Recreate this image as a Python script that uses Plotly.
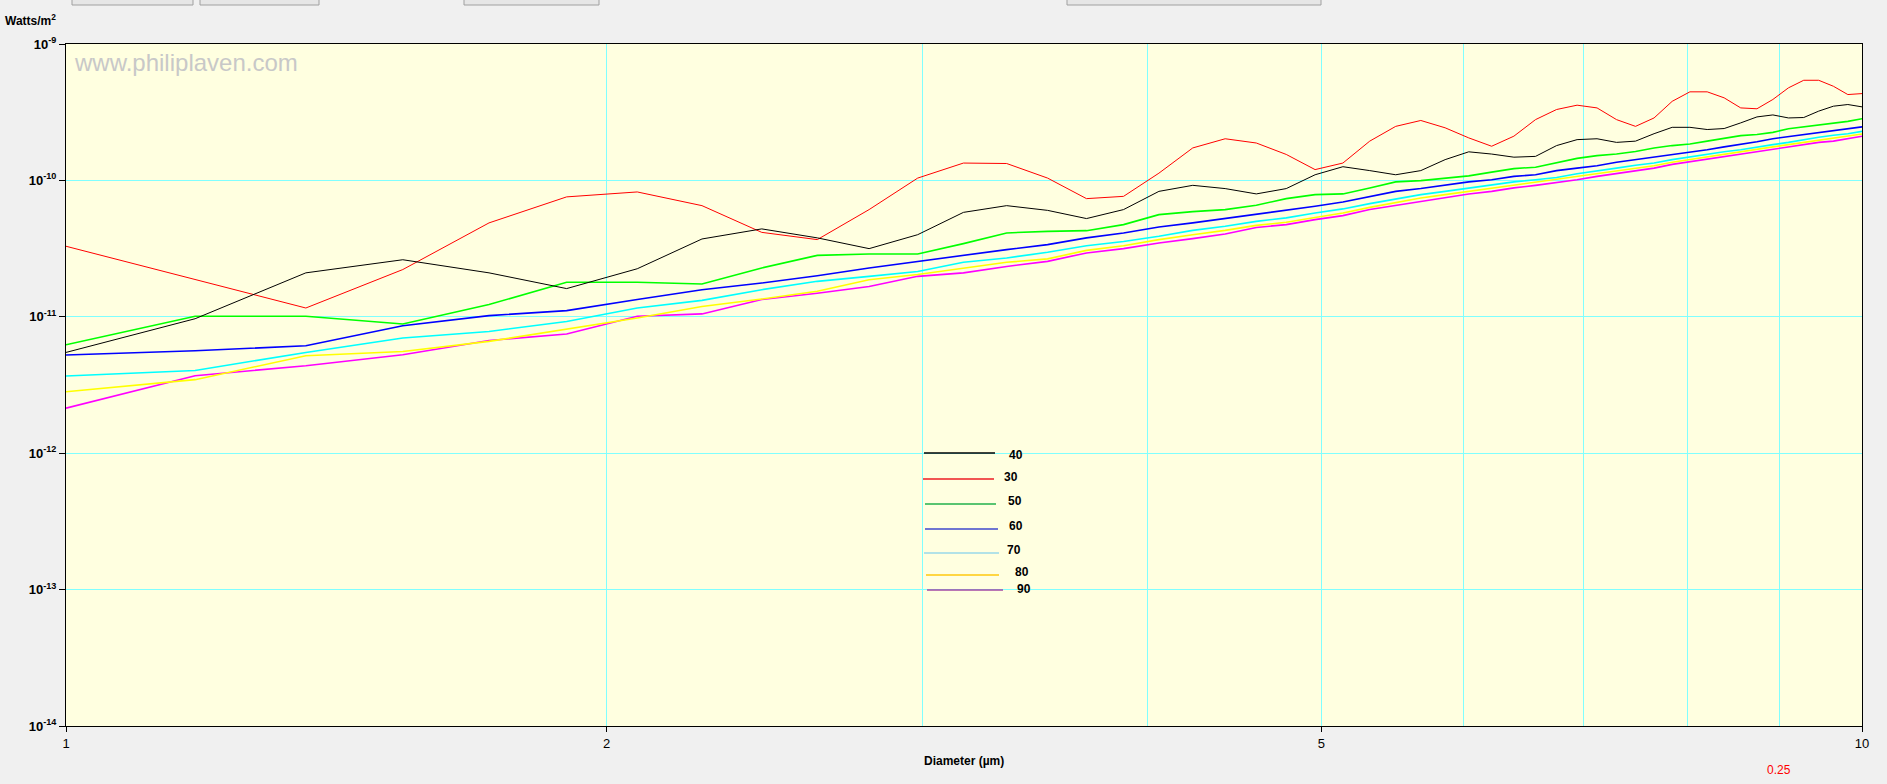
import plotly.graph_objects as go

# Diameter samples (µm)
diameter = [1.00, 1.18, 1.36, 1.54, 1.72, 1.90, 2.08, 2.26, 2.44, 2.62,
            2.80, 2.98, 3.16, 3.34, 3.52, 3.70, 3.88, 4.06, 4.24, 4.42,
            4.60, 4.78, 4.96, 5.14, 5.32, 5.50, 5.68, 5.86, 6.04, 6.22,
            6.40, 6.58, 6.76, 6.94, 7.12, 7.30, 7.48, 7.66, 7.84, 8.02,
            8.20, 8.38, 8.56, 8.74, 8.92, 9.10, 9.28, 9.46, 9.64, 9.82, 10.00]

w40 = [5.48e-12, 9.68e-12, 2.10e-11, 2.62e-11, 2.10e-11, 1.61e-11, 2.25e-11, 3.72e-11, 4.41e-11, 3.79e-11,
       3.16e-11, 4.00e-11, 5.83e-11, 6.53e-11, 6.03e-11, 5.25e-11, 6.11e-11, 8.31e-11, 9.20e-11, 8.71e-11,
       7.96e-11, 8.71e-11, 1.10e-10, 1.26e-10, 1.18e-10, 1.10e-10, 1.18e-10, 1.42e-10, 1.62e-10, 1.56e-10,
       1.48e-10, 1.50e-10, 1.80e-10, 1.99e-10, 2.02e-10, 1.90e-10, 1.94e-10, 2.20e-10, 2.45e-10, 2.45e-10,
       2.36e-10, 2.40e-10, 2.64e-10, 2.92e-10, 3.02e-10, 2.87e-10, 2.89e-10, 3.22e-10, 3.50e-10, 3.60e-10, 3.46e-10]
w30 = [3.29e-11, 1.89e-11, 1.16e-11, 2.22e-11, 4.88e-11, 7.57e-11, 8.23e-11, 6.53e-11, 4.16e-11, 3.68e-11,
       6.11e-11, 1.04e-10, 1.34e-10, 1.33e-10, 1.04e-10, 7.35e-11, 7.64e-11, 1.13e-10, 1.73e-10, 2.02e-10,
       1.88e-10, 1.55e-10, 1.20e-10, 1.34e-10, 1.94e-10, 2.49e-10, 2.75e-10, 2.43e-10, 2.05e-10, 1.78e-10,
       2.11e-10, 2.79e-10, 3.31e-10, 3.56e-10, 3.40e-10, 2.79e-10, 2.49e-10, 2.87e-10, 3.80e-10, 4.46e-10,
       4.46e-10, 4.03e-10, 3.40e-10, 3.35e-10, 3.92e-10, 4.77e-10, 5.42e-10, 5.42e-10, 4.90e-10, 4.26e-10, 4.33e-10]
w50 = [6.24e-12, 1.01e-11, 1.01e-11, 8.85e-12, 1.23e-11, 1.79e-11, 1.79e-11, 1.74e-11, 2.28e-11, 2.82e-11,
       2.89e-11, 2.89e-11, 3.44e-11, 4.12e-11, 4.23e-11, 4.28e-11, 4.74e-11, 5.61e-11, 5.90e-11, 6.11e-11,
       6.57e-11, 7.35e-11, 7.87e-11, 7.96e-11, 8.81e-11, 9.75e-11, 9.96e-11, 1.04e-10, 1.08e-10, 1.15e-10,
       1.22e-10, 1.25e-10, 1.34e-10, 1.45e-10, 1.52e-10, 1.56e-10, 1.63e-10, 1.73e-10, 1.80e-10, 1.85e-10,
       1.94e-10, 2.03e-10, 2.13e-10, 2.17e-10, 2.25e-10, 2.39e-10, 2.47e-10, 2.52e-10, 2.61e-10, 2.71e-10, 2.83e-10]
w60 = [5.25e-12, 5.64e-12, 6.13e-12, 8.60e-12, 1.02e-11, 1.11e-11, 1.34e-11, 1.58e-11, 1.77e-11, 2.00e-11,
       2.28e-11, 2.55e-11, 2.84e-11, 3.11e-11, 3.38e-11, 3.79e-11, 4.12e-11, 4.56e-11, 4.88e-11, 5.25e-11,
       5.68e-11, 6.00e-11, 6.46e-11, 6.95e-11, 7.64e-11, 8.31e-11, 8.71e-11, 9.20e-11, 9.75e-11, 1.01e-10,
       1.07e-10, 1.10e-10, 1.18e-10, 1.23e-10, 1.28e-10, 1.36e-10, 1.42e-10, 1.48e-10, 1.55e-10, 1.61e-10,
       1.68e-10, 1.76e-10, 1.83e-10, 1.92e-10, 2.02e-10, 2.09e-10, 2.17e-10, 2.25e-10, 2.32e-10, 2.40e-10, 2.47e-10]
w70 = [3.68e-12, 4.04e-12, 5.48e-12, 6.99e-12, 7.81e-12, 9.25e-12, 1.16e-11, 1.32e-11, 1.58e-11, 1.82e-11,
       1.98e-11, 2.15e-11, 2.51e-11, 2.70e-11, 2.97e-11, 3.32e-11, 3.57e-11, 3.89e-11, 4.30e-11, 4.61e-11,
       5.01e-11, 5.31e-11, 5.77e-11, 6.18e-11, 6.76e-11, 7.35e-11, 7.87e-11, 8.31e-11, 8.81e-11, 9.31e-11,
       9.75e-11, 1.01e-10, 1.05e-10, 1.12e-10, 1.17e-10, 1.23e-10, 1.29e-10, 1.34e-10, 1.42e-10, 1.49e-10,
       1.55e-10, 1.62e-10, 1.68e-10, 1.76e-10, 1.83e-10, 1.90e-10, 1.99e-10, 2.07e-10, 2.14e-10, 2.20e-10, 2.29e-10]
w80 = [2.82e-12, 3.46e-12, 5.18e-12, 5.57e-12, 6.60e-12, 8.14e-12, 9.80e-12, 1.19e-11, 1.35e-11, 1.54e-11,
       1.87e-11, 2.04e-11, 2.28e-11, 2.51e-11, 2.66e-11, 3.07e-11, 3.32e-11, 3.68e-11, 4.00e-11, 4.30e-11,
       4.68e-11, 4.93e-11, 5.35e-11, 5.77e-11, 6.34e-11, 6.90e-11, 7.44e-11, 7.87e-11, 8.31e-11, 8.81e-11,
       9.31e-11, 9.75e-11, 1.02e-10, 1.07e-10, 1.12e-10, 1.18e-10, 1.23e-10, 1.28e-10, 1.36e-10, 1.42e-10,
       1.49e-10, 1.55e-10, 1.62e-10, 1.68e-10, 1.76e-10, 1.83e-10, 1.90e-10, 1.99e-10, 2.05e-10, 2.13e-10, 2.19e-10]
w90 = [2.14e-12, 3.70e-12, 4.38e-12, 5.27e-12, 6.71e-12, 7.47e-12, 1.01e-11, 1.05e-11, 1.34e-11, 1.49e-11,
       1.67e-11, 1.98e-11, 2.10e-11, 2.34e-11, 2.55e-11, 2.94e-11, 3.16e-11, 3.48e-11, 3.74e-11, 4.05e-11,
       4.52e-11, 4.74e-11, 5.16e-11, 5.52e-11, 6.11e-11, 6.53e-11, 7.02e-11, 7.50e-11, 7.96e-11, 8.31e-11,
       8.81e-11, 9.20e-11, 9.64e-11, 1.01e-10, 1.07e-10, 1.12e-10, 1.18e-10, 1.23e-10, 1.31e-10, 1.37e-10,
       1.42e-10, 1.49e-10, 1.55e-10, 1.62e-10, 1.68e-10, 1.76e-10, 1.83e-10, 1.90e-10, 1.94e-10, 2.03e-10, 2.11e-10]

series_names = ["40", "30", "50", "60", "70", "80", "90"]
series_values = [w40, w30, w50, w60, w70, w80, w90]
line_colors = ["#000000", "#ff0000", "#00ff00", "#0000ff", "#00ffff", "#ffff00", "#ff00ff"]
line_widths = [1, 1, 1.6, 1.6, 1.6, 1.6, 1.6]
legend_colors = ["#000000", "#ed1c24", "#22b14c", "#3f48cc", "#99d9ea", "#ffc90e", "#a349a4"]

x_tickvals = [1, 2, 5, 10]
x_ticktext = ["1", "2", "5", "10"]
x_minor = [3, 4, 6, 7, 8, 9]
y_tickvals = [1e-14, 1e-13, 1e-12, 1e-11, 1e-10, 1e-9]
y_ticktext = ["10<sup>-14</sup>", "10<sup>-13</sup>", "10<sup>-12</sup>",
              "10<sup>-11</sup>", "10<sup>-10</sup>", "10<sup>-9</sup>"]

W, H = 1887, 784
L, R, T, B = 66, 25, 44, 58
PW, PH = W - L - R, H - T - B


def px(xp):
    return (xp - L) / PW


def py(yp):
    return (H - B - yp) / PH


fig = go.Figure()
# draw in reverse so black/red lie on top
for name, vals, col, lw in reversed(list(zip(series_names, series_values, line_colors, line_widths))):
    fig.add_trace(go.Scatter(x=diameter, y=vals, mode="lines", name=name,
                             line=dict(color=col, width=lw), showlegend=False, hoverinfo="skip"))

grid = "#80ffff"
fig.update_xaxes(type="log", range=[0, 1], tickmode="array", tickvals=x_tickvals, ticktext=x_ticktext,
                 showgrid=True, gridcolor=grid, gridwidth=1,
                 minor=dict(tickmode="array", tickvals=x_minor, showgrid=True, gridcolor=grid,
                            gridwidth=1, ticklen=0),
                 ticks="outside", ticklen=5, tickcolor="black",
                 showline=True, linecolor="black", linewidth=1, mirror=True,
                 tickfont=dict(family="Liberation Sans", size=13, color="black"),
                 zeroline=False)
fig.update_yaxes(type="log", range=[-14, -9], tickmode="array", tickvals=y_tickvals, ticktext=y_ticktext,
                 showgrid=True, gridcolor=grid, gridwidth=1,
                 ticks="outside", ticklen=6, tickcolor="black",
                 showline=True, linecolor="black", linewidth=1, mirror=True,
                 tickfont=dict(family="Liberation Sans", size=13, color="black", weight="bold"),
                 zeroline=False)

shapes = []
# legend lines (manual, drawn inside the plot)
leg_lines = [(924, 995, 453), (923, 994, 479), (925, 996, 504), (925, 998, 529),
             (924, 999, 553), (926, 999, 575), (927, 1003, 590)]
leg_text = [(1016, 455), (1011, 477), (1015, 501), (1016, 526), (1014, 550), (1022, 572), (1024, 589)]
for (x0, x1, yy), col in zip(leg_lines, legend_colors):
    shapes.append(dict(type="line", xref="paper", yref="paper", x0=px(x0), x1=px(x1), y0=py(yy), y1=py(yy),
                       line=dict(color=col, width=1.3)))
# partially visible toolbar buttons at the very top
for x0, x1 in [(72, 193), (200, 319), (464, 599), (1067, 1321)]:
    shapes.append(dict(type="rect", xref="paper", yref="paper", x0=px(x0), x1=px(x1), y0=py(5), y1=py(-3),
                       line=dict(color="#a0a0a0", width=1), fillcolor="#e6e6e6"))

annotations = []
for name, (xx, yy) in zip(series_names, leg_text):
    annotations.append(dict(text=name, xref="paper", yref="paper", x=px(xx), y=py(yy), showarrow=False,
                            xanchor="center", yanchor="middle",
                            font=dict(family="Liberation Sans", size=12, color="black", weight="bold")))
annotations += [
    dict(text="www.philiplaven.com", xref="paper", yref="paper", x=px(72), y=py(63), showarrow=False,
         xanchor="left", yanchor="middle", font=dict(family="Liberation Sans", size=24, color="#c8c8c8")),
    dict(text="Watts/m<sup>2</sup>", xref="paper", yref="paper", x=px(3), y=py(20), showarrow=False,
         xanchor="left", yanchor="middle",
         font=dict(family="Liberation Sans", size=12, color="black", weight="bold")),
    dict(text="Diameter (µm)", xref="paper", yref="paper", x=px(964), y=py(761), showarrow=False,
         xanchor="center", yanchor="middle",
         font=dict(family="Liberation Sans", size=12, color="black", weight="bold")),
    dict(text="0.25", xref="paper", yref="paper", x=px(1779), y=py(770), showarrow=False,
         xanchor="center", yanchor="middle", font=dict(family="Liberation Sans", size=12, color="#ff0000")),
]

fig.update_layout(width=W, height=H, margin=dict(l=L, r=R, t=T, b=B, autoexpand=False),
                  paper_bgcolor="#f0f0f0", plot_bgcolor="#ffffe0",
                  shapes=shapes, annotations=annotations, showlegend=False)

fig.write_html("out.html", config={"displayModeBar": False},
               post_script="document.body.style.margin='0';document.body.style.background='#f0f0f0';"
                           "document.body.style.overflow='hidden';")
